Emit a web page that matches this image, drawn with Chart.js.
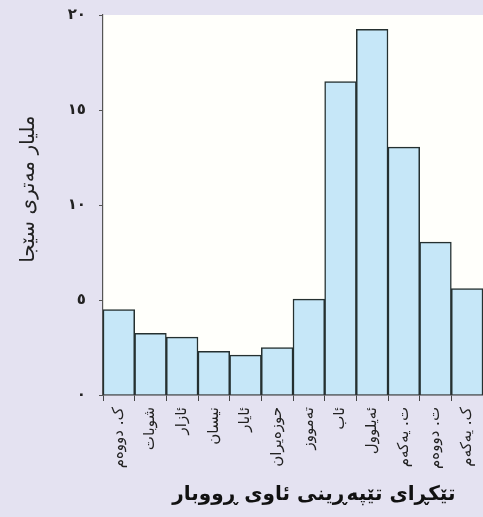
<!DOCTYPE html>
<html>
<head>
<meta charset="utf-8">
<script src="https://cdn.jsdelivr.net/npm/chart.js@4.4.1/dist/chart.umd.min.js"></script>
<style>
  html, body { margin: 0; padding: 0; background: #e4e2f1; }
  #wrap { width: 483px; height: 517px; position: relative; }
</style>
</head>
<body>
<div id="wrap"><canvas id="c" width="483" height="517"></canvas></div>
<script>
const months = ['ک. دووەم','شوبات','ئازار','نیسان','ئایار','حوزەیران','تەمووز','ئاب','ئەیلوول','ت. یەکەم','ت. دووەم','ک. یەکەم'];
const flowValues = [4.5, 3.25, 3.05, 2.3, 2.1, 2.5, 5.05, 16.5, 19.25, 13.05, 8.05, 5.6];
const yTickLabels = ['٠','٥','١٠','١٥','٢٠'];
const yTitle = 'ملیار مەتری سێجا';
const xTitle = 'تێکڕای تێپەڕینی ئاوی ڕووبار';

const plotBg = {
  id: 'plotBg',
  beforeDraw(chart) {
    const {ctx, chartArea: a} = chart;
    ctx.save();
    ctx.fillStyle = '#fffffb';
    ctx.fillRect(a.left, a.top, a.right - a.left, a.bottom - a.top);
    ctx.restore();
  }
};

const FONT = "'DejaVu Sans', sans-serif";
const pad = n => '\u00A0'.repeat(n);

new Chart(document.getElementById('c'), {
  type: 'bar',
  data: {
    labels: months,
    datasets: [{
      data: flowValues,
      backgroundColor: '#c6e7f8',
      borderColor: '#253030',
      borderWidth: 1.5,
      barPercentage: 1.0,
      categoryPercentage: 1.0
    }]
  },
  options: {
    responsive: false,
    animation: false,
    devicePixelRatio: 1,
    layout: { padding: { top: 15, right: 0, bottom: 0, left: 0 } },
    plugins: { legend: { display: false }, tooltip: { enabled: false } },
    scales: {
      x: {
        grid: { display: true, drawOnChartArea: false, drawTicks: true, tickLength: 6, color: '#444', offset: true },
        border: { display: true, color: '#333', width: 1.5 },
        ticks: {
          autoSkip: false, maxRotation: 90, minRotation: 90, padding: 6,
          color: '#222', font: { family: FONT, size: 15 }
        },
        title: {
          display: true, text: pad(6) + xTitle, color: '#111',
          font: { family: FONT, size: 20, weight: 'bold' },
          padding: { top: 0, bottom: 10 }
        },
        afterFit(scale) { scale.height = 122; scale.paddingRight = 0; scale.paddingLeft = 0; }
      },
      y: {
        min: 0, max: 20,
        grid: { display: true, drawOnChartArea: false, drawTicks: true, tickLength: 4, color: '#555' },
        border: { display: true, color: '#555', width: 1.2 },
        ticks: {
          stepSize: 5, padding: 13, color: '#222',
          font: { family: FONT, size: 15, weight: 'bold' },
          callback: (v, i) => yTickLabels[i]
        },
        title: {
          display: true, text: pad(5) + yTitle, color: '#222',
          font: { family: FONT, size: 20 },
          padding: { top: 17, bottom: 0 }
        },
        afterFit(scale) { scale.width = 103; scale.paddingTop = 0; scale.paddingBottom = 0; }
      }
    }
  },
  plugins: [plotBg]
});
</script>
</body>
</html>
